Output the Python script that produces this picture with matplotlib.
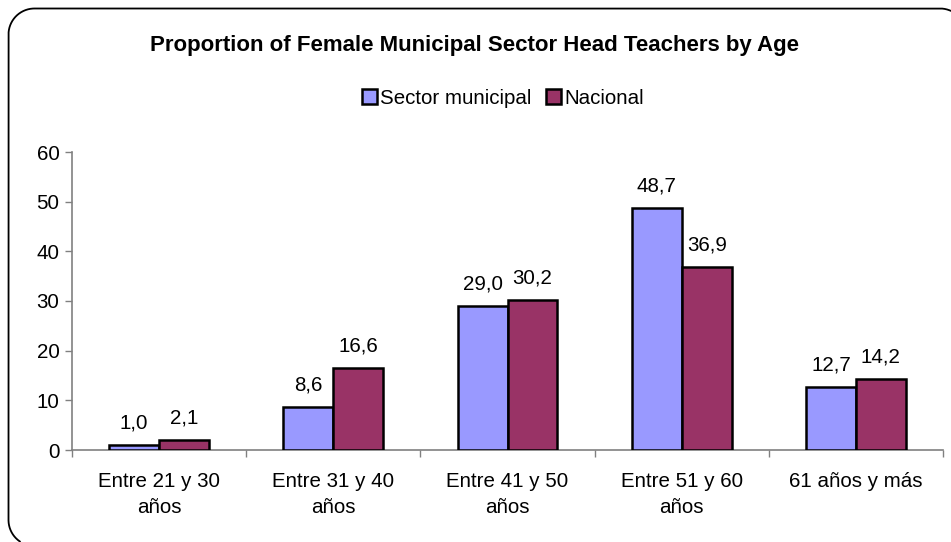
import matplotlib
matplotlib.use("Agg")
import matplotlib.pyplot as plt
import numpy as np
from matplotlib.ticker import FixedLocator, NullFormatter

plt.rcParams['font.family'] = ['Liberation Sans', 'DejaVu Sans']
plt.rcParams['savefig.bbox'] = 'standard'

categories = ["Entre 21 y 30\naños", "Entre 31 y 40\naños", "Entre 41 y 50\naños",
              "Entre 51 y 60\naños", "61 años y más"]
series_names = ["Sector municipal", "Nacional"]
municipal = [1.0, 8.6, 29.0, 48.7, 12.7]
nacional = [2.1, 16.6, 30.2, 36.9, 14.2]
colors = ["#9999FF", "#993366"]

W, H = 951, 542
fig = plt.figure(figsize=(W / 100, H / 100), dpi=100)

FS = 14.8

# background axes in pixel units for the rounded outer frame
bg = fig.add_axes([0, 0, 1, 1])
bg.set_xlim(0, W)
bg.set_ylim(H, 0)
bg.axis("off")

# visible part of the rounded frame: bottom-left arc -> left edge -> top-left arc
# -> top edge -> top-right arc (the rest lies outside the canvas)
x0, y0, x1, y1, r = 8.5, 8.5, 966, 546, 26
segs = []
t = np.radians(np.linspace(90, 180, 200))
segs.append(np.c_[x0 + r + r * np.cos(t), y1 - r + r * np.sin(t)])
t = np.radians(np.linspace(180, 270, 200))
segs.append(np.c_[x0 + r + r * np.cos(t), y0 + r + r * np.sin(t)])
t = np.radians(np.linspace(-90, 0, 200))
segs.append(np.c_[x1 - r + r * np.cos(t), y0 + r + r * np.sin(t)])
fr = np.vstack(segs)
fr = fr[(fr[:, 0] <= W - 0.5) & (fr[:, 1] <= H - 0.5)]
bg.plot(fr[:, 0], fr[:, 1], color="black", linewidth=1.3, clip_on=True,
        solid_joinstyle="round")

ax_l, ax_r, ax_t, ax_b = 72, 943, 152, 450
ax = fig.add_axes([ax_l / W, 1 - ax_b / H, (ax_r - ax_l) / W, (ax_b - ax_t) / H])

x = np.arange(len(categories))
bw = 0.287
for vals, col, off, name in [(municipal, colors[0], -bw / 2, series_names[0]),
                             (nacional, colors[1], bw / 2, series_names[1])]:
    bars = ax.bar(x + off, vals, width=bw, color=col, edgecolor="black", linewidth=1.8,
                  label=name, zorder=3)
    for b, v in zip(bars, vals):
        ax.annotate(f"{v:.1f}".replace(".", ","), (b.get_x() + b.get_width() / 2, v),
                    xytext=(0, 9), textcoords="offset points", ha="center", va="bottom",
                    fontsize=FS, color="black")

ax.set_xlim(-0.5, len(categories) - 0.5)
ax.set_ylim(0, 60)
ax.set_yticks(range(0, 61, 10))
ax.set_xticks(x)
ax.set_xticklabels(categories, fontsize=FS, linespacing=1.45)
ax.xaxis.set_minor_locator(FixedLocator(np.arange(-0.5, len(categories), 1.0)))
ax.xaxis.set_minor_formatter(NullFormatter())
ax.tick_params(axis='x', which='major', length=0, pad=16)
ax.tick_params(axis='x', which='minor', length=5, width=1, color="#808080", direction="out")
ax.tick_params(axis='y', length=5, width=1, color="#808080", labelsize=FS, pad=4)
for s in ["top", "right"]:
    ax.spines[s].set_visible(False)
for s in ["left", "bottom"]:
    ax.spines[s].set_color("#808080")
    ax.spines[s].set_linewidth(1.2)

fig.text(475 / W, 1 - 46 / H, "Proportion of Female Municipal Sector Head Teachers by Age",
         ha="center", va="center", fontsize=16, fontweight="bold")

handles, labels = ax.get_legend_handles_labels()
leg = fig.legend(handles, labels, loc="center", bbox_to_anchor=(503 / W, 1 - 98 / H), ncol=2,
                 frameon=False, fontsize=FS, handlelength=0.75, handleheight=0.75,
                 handletextpad=0.15, columnspacing=0.7, borderaxespad=0)

fig.savefig("out.png", dpi=100, bbox_inches=None)
